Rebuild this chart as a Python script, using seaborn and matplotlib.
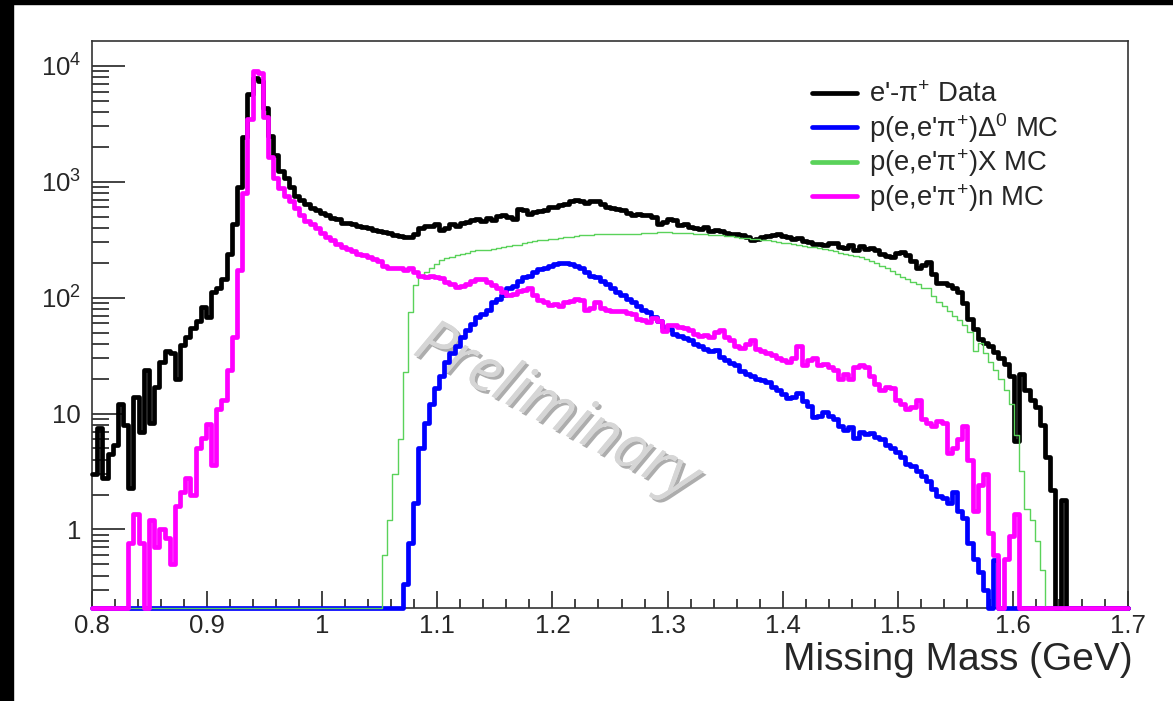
import numpy as np
import matplotlib
matplotlib.use("Agg")
import matplotlib.pyplot as plt
import matplotlib.patheffects as pe
from matplotlib.lines import Line2D
from matplotlib.patches import Rectangle
from matplotlib.ticker import FixedLocator, FixedFormatter, NullFormatter, MultipleLocator, FuncFormatter
import seaborn as sns

# histogram binning (200 bins, 0.8 - 1.7 GeV)
x_min, x_max, n_bins = 0.8, 1.7, 200

# counts per bin
data_counts = [
    3, 7.5, 2.8, 4.5, 5.4, 12, 8, 2.3, 14, 7,
    24, 8.3, 17, 28, 35, 33, 20, 39, 46, 55,
    63, 83, 68, 112, 120, 145, 240, 430, 910, 2450,
    5750, 7900, 7400, 4350, 2500, 1700, 1250, 1080, 910, 760,
    690, 640, 590, 575, 540, 515, 490, 480, 445, 445,
    430, 415, 410, 400, 383, 375, 370, 365, 345, 340,
    333, 333, 355, 400, 415, 415, 430, 383, 400, 430,
    415, 445, 450, 470, 480, 461, 485, 471, 506, 521,
    495, 478, 585, 573, 532, 545, 560, 573, 603, 611,
    630, 648, 686, 697, 676, 658, 686, 676, 638, 611,
    594, 577, 570, 537, 521, 528, 514, 521, 495, 429,
    451, 478, 471, 420, 429, 407, 398, 389, 407, 379,
    384, 373, 363, 357, 352, 345, 333, 314, 318, 333,
    343, 346, 357, 343, 333, 318, 328, 310, 305, 292,
    288, 284, 297, 298, 276, 268, 284, 257, 277, 264,
    268, 258, 240, 228, 223, 245, 248, 235, 208, 180,
    193, 203, 161, 135, 133, 128, 121, 112, 90, 65,
    54, 44, 41, 38, 34, 30, 27, 21, 5.8, 22,
    16, 13, 11.5, 8, 4.2, 2.2, 0, 1.8, 0, 0,
    0, 0, 0, 0, 0, 0, 0, 0, 0, 0,
]

delta_counts = [
    0, 0, 0, 0, 0, 0, 0, 0, 0, 0,
    0, 0, 0, 0, 0, 0, 0, 0, 0, 0,
    0, 0, 0, 0, 0, 0, 0, 0, 0, 0,
    0, 0, 0, 0, 0, 0, 0, 0, 0, 0,
    0, 0, 0, 0, 0, 0, 0, 0, 0, 0,
    0, 0, 0, 0, 0, 0, 0, 0, 0, 0,
    0.34, 0.76, 1.7, 5, 8.3, 12, 16.6, 21, 28, 33,
    38, 46, 53, 59, 68, 72, 78, 91, 98, 105,
    121, 125, 139, 150, 155, 166, 177, 180, 186, 194,
    200, 200, 194, 186, 180, 166, 155, 150, 139, 132,
    121, 112, 106, 98, 91, 84, 78, 75, 68, 63,
    56, 54, 49, 47, 45, 43, 40, 38, 36, 34.5,
    35.5, 31, 29, 27.5, 26, 23.5, 22, 21, 20, 19.5,
    18.8, 17, 16, 14.8, 13.5, 14, 15, 12.8, 11.6, 9.3,
    9.6, 10.4, 9.6, 9, 7.8, 7.2, 7.7, 6.2, 6.9, 6.7,
    6.8, 6.3, 6, 5.4, 5, 4.7, 4.2, 3.7, 3.5, 3.2,
    2.9, 2.6, 2.25, 1.95, 1.85, 1.7, 2.1, 1.45, 1.25, 0.76,
    0.56, 0.43, 0.3, 0, 0.55, 0, 0, 0, 0, 0,
    0, 0, 0, 0, 0, 0, 0, 0, 0, 0,
    0, 0, 0, 0, 0, 0, 0, 0, 0, 0,
]

x_counts = [
    0, 0, 0, 0, 0, 0, 0, 0, 0, 0,
    0, 0, 0, 0, 0, 0, 0, 0, 0, 0,
    0, 0, 0, 0, 0, 0, 0, 0, 0, 0,
    0, 0, 0, 0, 0, 0, 0, 0, 0, 0,
    0, 0, 0, 0, 0, 0, 0, 0, 0, 0,
    0, 0, 0, 0, 0, 0, 0.6, 1.2, 3, 6,
    23, 75, 128, 150, 165, 180, 195, 210, 218, 225,
    232, 236, 245, 252, 258, 257, 260, 264, 268, 273,
    277, 282, 287, 294, 300, 307, 312, 315, 318, 322,
    330, 335, 337, 343, 345, 347, 350, 352, 355, 355,
    355, 357, 355, 357, 355, 357, 360, 362, 362, 366,
    366, 368, 362, 362, 358, 358, 355, 355, 353, 350,
    347, 345, 343, 338, 333, 330, 325, 322, 321, 316,
    312, 307, 303, 298, 294, 288, 284, 280, 276, 272,
    268, 262, 256, 251, 245, 238, 233, 228, 223, 215,
    206, 198, 189, 180, 171, 161, 152, 145, 137, 130,
    122, 121, 104, 92, 84, 77, 70, 64, 58, 51,
    35, 41, 33, 28, 24, 20, 16, 12, 6.5, 3.2,
    1.5, 1.2, 0.8, 0.45, 0, 0, 0, 0, 0, 0,
    0, 0, 0, 0, 0, 0, 0, 0, 0, 0,
]

n_counts = [
    0, 0, 0, 0, 0, 0, 0, 0.77, 1.35, 0.77,
    0, 1.2, 0.7, 1.0, 0.85, 0.5, 1.6, 2.1, 2.8, 2.0,
    5, 6.2, 8.2, 3.6, 11, 13, 24, 46, 175, 800,
    3500, 9000, 8700, 3600, 1630, 1070, 880, 760, 680, 590,
    515, 460, 430, 400, 365, 333, 315, 290, 272, 265,
    252, 240, 234, 224, 215, 208, 186, 180, 180, 180,
    173, 180, 166, 155, 152, 155, 150, 148, 136, 130,
    123, 125, 132, 139, 145, 145, 136, 128, 121, 112,
    105, 108, 114, 117, 120, 105, 96, 91, 87, 89,
    85, 91, 94, 98, 96, 78, 82, 92, 82, 78,
    77, 76, 77, 74, 72, 66, 64, 62, 67, 63,
    52, 58, 58, 56, 55, 53, 49, 47, 48, 46,
    51, 53, 46, 43, 38, 37, 40, 43, 36, 35,
    33, 32, 30, 29, 28, 30, 38, 26, 29, 30,
    26, 27, 25, 24, 20, 22, 20, 25, 26, 25,
    21, 18, 16, 17, 16.5, 13, 12, 11, 11.5, 13,
    8.9, 8.3, 7.8, 8.6, 8.3, 4.6, 5, 6, 7.8, 4,
    1.45, 2.4, 3, 0.93, 0.6, 0, 0.56, 0.87, 1.35, 0,
    0, 0, 0, 0, 0, 0, 0, 0, 0, 0,
    0, 0, 0, 0, 0, 0, 0, 0, 0, 0,
]

labels = ["e'-\u03c0$^{+}$ Data",
          "p(e,e'\u03c0$^{+}$)\u0394$^{0}$ MC",
          "p(e,e'\u03c0$^{+}$)X MC",
          "p(e,e'\u03c0$^{+}$)n MC"]
colors = ["#000000", "#0000ff", "#5ad25a", "#ff00ff"]
widths = [3.4, 3.4, 1.0, 3.4]

y_lo, y_hi = 0.21, 16400

sns.set_theme(style="white")
plt.rcParams["font.family"] = ["Liberation Sans", "DejaVu Sans"]
plt.rcParams["mathtext.fontset"] = "custom"
plt.rcParams["mathtext.rm"] = "Liberation Sans"
plt.rcParams["mathtext.it"] = "Liberation Sans:italic"
plt.rcParams["mathtext.sf"] = "Liberation Sans"

fig = plt.figure(figsize=(11.73, 7.01), dpi=100)
ax = fig.add_axes([92 / 1173, 93 / 701, 1036 / 1173, 567 / 701])
ax.set_yscale("log")

edges = np.linspace(x_min, x_max, n_bins + 1)
for i, counts in enumerate([data_counts, delta_counts, x_counts, n_counts]):
    v = np.array(counts, dtype=float)
    v = np.where(v > 0, v, y_lo)  # empty bins sit on the frame bottom, like ROOT
    sns.lineplot(x=edges, y=np.append(v, v[-1]), drawstyle="steps-post",
                 color=colors[i], lw=widths[i], estimator=None, sort=False,
                 legend=False, ax=ax, clip_on=False, zorder=3 + i)

ax.set_xlim(x_min, x_max)
ax.set_ylim(y_lo, y_hi)
ax.set_xlabel("")
ax.set_ylabel("")

# ROOT-like ticks: inside, left and bottom only
ax.xaxis.set_major_locator(MultipleLocator(0.1))
ax.xaxis.set_minor_locator(MultipleLocator(0.02))
ax.xaxis.set_major_formatter(FuncFormatter(lambda v, p: f"{v:g}"))
ax.yaxis.set_major_locator(FixedLocator([1, 10, 100, 1000, 10000]))
ax.yaxis.set_major_formatter(FixedFormatter(["1", "10", r"$10^{2}$", r"$10^{3}$", r"$10^{4}$"]))
minor_y = [m * 10.0 ** e for e in range(-1, 5) for m in range(2, 10)]
ax.yaxis.set_minor_locator(FixedLocator([t for t in minor_y if y_lo < t < y_hi]))
ax.yaxis.set_minor_formatter(NullFormatter())
ax.tick_params(axis="y", which="major", direction="in", length=24, width=1.2,
               color="#222222", labelsize=18.5, pad=8, left=True, right=False)
ax.tick_params(axis="y", which="minor", direction="in", length=12, width=1.2,
               color="#222222", left=True, right=False)
ax.tick_params(axis="x", which="major", direction="in", length=12.5, width=1.2,
               color="#222222", labelsize=18.5, pad=4, bottom=True, top=False)
ax.tick_params(axis="x", which="minor", direction="in", length=6.5, width=1.2,
               color="#222222", bottom=True, top=False)
for s in ax.spines.values():
    s.set_color("#333333")
    s.set_linewidth(1.2)

handles = [Line2D([0], [0], color=c, lw=3.4) for c in colors]
ax.legend(handles, labels, loc="upper left", bbox_to_anchor=(0.695, 0.927),
          frameon=False, fontsize=19.8, handlelength=1.65, handletextpad=0.42,
          labelspacing=0.1, borderpad=0, borderaxespad=0)

ax.text(0.448, 0.345, "Preliminary", transform=ax.transAxes, rotation=-28,
        ha="center", va="center", fontsize=44, fontstyle="italic",
        family="Open Sans", color="#d6d6d6", zorder=2,
        path_effects=[pe.withSimplePatchShadow(offset=(2, -2), shadow_rgbFace="#8a8a8a", alpha=0.7),
                      pe.Normal()])

fig.text(1133 / 1173, (701 - 670) / 701, "Missing Mass (GeV)", ha="right",
         va="baseline", fontsize=28)

# black canvas edges of the screenshot
fig.patches.append(Rectangle((0, 0), 13 / 1173, 1, transform=fig.transFigure,
                             color="black", zorder=10))
fig.patches.append(Rectangle((0, 1 - 4 / 701), 1, 4 / 701, transform=fig.transFigure,
                             color="black", zorder=10))

fig.savefig("out.png", dpi=100)
